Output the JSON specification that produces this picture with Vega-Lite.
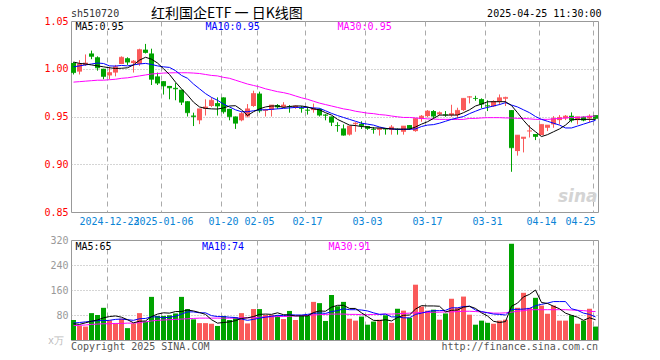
{
"$schema": "https://vega.github.io/schema/vega-lite/v6.json",
"background": "#ffffff",
"padding": {"left": 40, "top": 6, "right": 5, "bottom": 5},
"spacing": 3,
"config": {
  "view": {"stroke": "#999999", "strokeWidth": 1},
  "axis": {"title": null, "ticks": false, "domain": false, "labelFont": "DejaVu Sans Mono", "labelFontSize": 10, "labelOverlap": false},
  "text": {"font": "DejaVu Sans Mono", "fontSize": 10}
},
"datasets": {
"kd": [
{"d":"2024-12-13","o":1.006,"h":1.007,"l":0.994,"c":0.996,"v":64,"m5":1.007,"m10":1.002,"m30":0.986,"vm5":52,"vm10":54,"vm30":46},
{"d":"2024-12-16","o":0.997,"h":1.009,"l":0.994,"c":1.005,"v":45,"m5":1.0056,"m10":1.003,"m30":0.9865,"vm5":50,"vm10":56,"vm30":47},
{"d":"2024-12-17","o":1.004,"h":1.015,"l":1.003,"c":1.006,"v":43,"m5":1.005,"m10":1.004,"m30":0.987,"vm5":55,"vm10":58,"vm30":48},
{"d":"2024-12-18","o":1.016,"h":1.019,"l":1.010,"c":1.013,"v":86,"m5":1.004,"m10":1.005,"m30":0.9875,"vm5":60,"vm10":60,"vm30":50},
{"d":"2024-12-19","o":1.012,"h":1.013,"l":0.998,"c":1.001,"v":80,"m5":1.003,"m10":1.006,"m30":0.988,"vm5":64,"vm10":62,"vm30":51},
{"d":"2024-12-20","o":1.000,"h":1.000,"l":0.989,"c":0.992,"v":103,"m5":1.002,"m10":1.0055,"m30":0.988,"vm5":71,"vm10":62,"vm30":52},
{"d":"2024-12-23","o":0.993,"h":1.002,"l":0.989,"c":0.996,"v":63,"m5":1.001,"m10":1.003,"m30":0.9885,"vm5":75,"vm10":63,"vm30":52},
{"d":"2024-12-24","o":0.996,"h":1.004,"l":0.992,"c":1.002,"v":53,"m5":1.0003,"m10":1.0028,"m30":0.989,"vm5":77,"vm10":66,"vm30":53},
{"d":"2024-12-25","o":1.005,"h":1.013,"l":1.005,"c":1.012,"v":68,"m5":1.0005,"m10":1.0035,"m30":0.990,"vm5":73,"vm10":67,"vm30":53},
{"d":"2024-12-26","o":1.011,"h":1.012,"l":1.004,"c":1.007,"v":38,"m5":1.001,"m10":1.003,"m30":0.9905,"vm5":65,"vm10":65,"vm30":54},
{"d":"2024-12-27","o":1.006,"h":1.009,"l":0.996,"c":1.008,"v":53,"m5":1.004,"m10":1.004,"m30":0.9915,"vm5":55,"vm10":63,"vm30":54},
{"d":"2024-12-30","o":1.005,"h":1.021,"l":1.003,"c":1.020,"v":86,"m5":1.009,"m10":1.005,"m30":0.9925,"vm5":60,"vm10":68,"vm30":56},
{"d":"2024-12-31","o":1.020,"h":1.026,"l":1.016,"c":1.017,"v":59,"m5":1.012,"m10":1.0056,"m30":0.9935,"vm5":61,"vm10":69,"vm30":58},
{"d":"2025-01-02","o":1.016,"h":1.021,"l":0.983,"c":0.989,"v":138,"m5":1.010,"m10":1.0045,"m30":0.9945,"vm5":75,"vm10":74,"vm30":61},
{"d":"2025-01-03","o":0.992,"h":0.996,"l":0.983,"c":0.985,"v":77,"m5":1.006,"m10":1.003,"m30":0.995,"vm5":83,"vm10":74,"vm30":63},
{"d":"2025-01-06","o":0.987,"h":0.987,"l":0.973,"c":0.982,"v":77,"m5":1.000,"m10":1.002,"m30":0.9955,"vm5":87,"vm10":71,"vm30":64},
{"d":"2025-01-07","o":0.982,"h":0.982,"l":0.968,"c":0.980,"v":79,"m5":0.994,"m10":1.0014,"m30":0.9957,"vm5":86,"vm10":73,"vm30":65},
{"d":"2025-01-08","o":0.980,"h":0.985,"l":0.967,"c":0.979,"v":85,"m5":0.986,"m10":0.998,"m30":0.9958,"vm5":91,"vm10":76,"vm30":66},
{"d":"2025-01-09","o":0.978,"h":0.978,"l":0.962,"c":0.965,"v":138,"m5":0.979,"m10":0.993,"m30":0.9958,"vm5":91,"vm10":83,"vm30":67},
{"d":"2025-01-10","o":0.966,"h":0.966,"l":0.950,"c":0.954,"v":99,"m5":0.9724,"m10":0.990,"m30":0.9958,"vm5":96,"vm10":90,"vm30":68},
{"d":"2025-01-13","o":0.951,"h":0.954,"l":0.940,"c":0.950,"v":66,"m5":0.965,"m10":0.984,"m30":0.9955,"vm5":93,"vm10":90,"vm30":69},
{"d":"2025-01-14","o":0.946,"h":0.958,"l":0.942,"c":0.958,"v":54,"m5":0.960,"m10":0.979,"m30":0.995,"vm5":88,"vm10":87,"vm30":70},
{"d":"2025-01-15","o":0.958,"h":0.968,"l":0.951,"c":0.960,"v":54,"m5":0.9585,"m10":0.974,"m30":0.994,"vm5":82,"vm10":87,"vm30":70},
{"d":"2025-01-16","o":0.961,"h":0.970,"l":0.960,"c":0.967,"v":52,"m5":0.958,"m10":0.970,"m30":0.993,"vm5":65,"vm10":78,"vm30":70},
{"d":"2025-01-17","o":0.964,"h":0.970,"l":0.951,"c":0.961,"v":45,"m5":0.9578,"m10":0.967,"m30":0.9925,"vm5":54,"vm10":75,"vm30":70},
{"d":"2025-01-20","o":0.970,"h":0.970,"l":0.953,"c":0.955,"v":77,"m5":0.959,"m10":0.963,"m30":0.991,"vm5":56,"vm10":75,"vm30":70},
{"d":"2025-01-21","o":0.958,"h":0.958,"l":0.946,"c":0.950,"v":64,"m5":0.961,"m10":0.960,"m30":0.990,"vm5":58,"vm10":73,"vm30":70},
{"d":"2025-01-22","o":0.950,"h":0.950,"l":0.937,"c":0.943,"v":73,"m5":0.9613,"m10":0.957,"m30":0.988,"vm5":62,"vm10":72,"vm30":70},
{"d":"2025-01-23","o":0.946,"h":0.955,"l":0.945,"c":0.953,"v":86,"m5":0.957,"m10":0.955,"m30":0.986,"vm5":69,"vm10":67,"vm30":71},
{"d":"2025-01-24","o":0.950,"h":0.963,"l":0.949,"c":0.958,"v":53,"m5":0.951,"m10":0.955,"m30":0.984,"vm5":71,"vm10":63,"vm30":71},
{"d":"2025-01-27","o":0.961,"h":0.977,"l":0.960,"c":0.974,"v":99,"m5":0.955,"m10":0.956,"m30":0.9825,"vm5":75,"vm10":66,"vm30":72},
{"d":"2025-02-05","o":0.974,"h":0.976,"l":0.954,"c":0.956,"v":99,"m5":0.958,"m10":0.957,"m30":0.981,"vm5":82,"vm10":70,"vm30":73},
{"d":"2025-02-06","o":0.956,"h":0.958,"l":0.950,"c":0.957,"v":80,"m5":0.960,"m10":0.957,"m30":0.979,"vm5":83,"vm10":73,"vm30":74},
{"d":"2025-02-07","o":0.957,"h":0.962,"l":0.950,"c":0.962,"v":80,"m5":0.961,"m10":0.9575,"m30":0.9775,"vm5":82,"vm10":76,"vm30":74},
{"d":"2025-02-10","o":0.962,"h":0.963,"l":0.958,"c":0.960,"v":79,"m5":0.961,"m10":0.958,"m30":0.976,"vm5":87,"vm10":79,"vm30":75},
{"d":"2025-02-11","o":0.960,"h":0.965,"l":0.959,"c":0.962,"v":67,"m5":0.9595,"m10":0.9585,"m30":0.975,"vm5":81,"vm10":78,"vm30":75},
{"d":"2025-02-12","o":0.9608,"h":0.962,"l":0.954,"c":0.9605,"v":93,"m5":0.9605,"m10":0.959,"m30":0.9735,"vm5":80,"vm10":81,"vm30":76},
{"d":"2025-02-13","o":0.959,"h":0.9617,"l":0.958,"c":0.961,"v":64,"m5":0.961,"m10":0.9595,"m30":0.9715,"vm5":77,"vm10":80,"vm30":77},
{"d":"2025-02-14","o":0.959,"h":0.961,"l":0.954,"c":0.9585,"v":80,"m5":0.961,"m10":0.9596,"m30":0.9696,"vm5":77,"vm10":80,"vm30":78},
{"d":"2025-02-17","o":0.957,"h":0.960,"l":0.952,"c":0.9565,"v":80,"m5":0.960,"m10":0.9595,"m30":0.968,"vm5":77,"vm10":82,"vm30":79},
{"d":"2025-02-18","o":0.9567,"h":0.9635,"l":0.954,"c":0.9585,"v":122,"m5":0.958,"m10":0.959,"m30":0.966,"vm5":88,"vm10":85,"vm30":80},
{"d":"2025-02-19","o":0.958,"h":0.9585,"l":0.950,"c":0.9515,"v":118,"m5":0.957,"m10":0.9586,"m30":0.964,"vm5":93,"vm10":87,"vm30":81},
{"d":"2025-02-20","o":0.952,"h":0.9525,"l":0.946,"c":0.9512,"v":61,"m5":0.954,"m10":0.956,"m30":0.9625,"vm5":92,"vm10":85,"vm30":82},
{"d":"2025-02-21","o":0.950,"h":0.950,"l":0.940,"c":0.944,"v":144,"m5":0.9515,"m10":0.9533,"m30":0.961,"vm5":105,"vm10":91,"vm30":83},
{"d":"2025-02-24","o":0.941,"h":0.944,"l":0.934,"c":0.9405,"v":108,"m5":0.947,"m10":0.951,"m30":0.9595,"vm5":111,"vm10":94,"vm30":83},
{"d":"2025-02-25","o":0.9375,"h":0.9417,"l":0.930,"c":0.9305,"v":122,"m5":0.944,"m10":0.949,"m30":0.958,"vm5":111,"vm10":100,"vm30":83},
{"d":"2025-02-26","o":0.931,"h":0.940,"l":0.930,"c":0.940,"v":68,"m5":0.941,"m10":0.947,"m30":0.957,"vm5":101,"vm10":97,"vm30":82},
{"d":"2025-02-27","o":0.942,"h":0.944,"l":0.934,"c":0.943,"v":62,"m5":0.9405,"m10":0.945,"m30":0.9555,"vm5":101,"vm10":97,"vm30":82},
{"d":"2025-02-28","o":0.9424,"h":0.945,"l":0.937,"c":0.9403,"v":75,"m5":0.9395,"m10":0.943,"m30":0.9545,"vm5":87,"vm10":96,"vm30":81},
{"d":"2025-03-03","o":0.940,"h":0.940,"l":0.936,"c":0.9375,"v":49,"m5":0.939,"m10":0.942,"m30":0.9535,"vm5":75,"vm10":93,"vm30":81},
{"d":"2025-03-04","o":0.937,"h":0.939,"l":0.932,"c":0.9365,"v":59,"m5":0.938,"m10":0.941,"m30":0.953,"vm5":63,"vm10":87,"vm30":82},
{"d":"2025-03-05","o":0.936,"h":0.938,"l":0.930,"c":0.9375,"v":65,"m5":0.938,"m10":0.939,"m30":0.952,"vm5":62,"vm10":82,"vm30":82},
{"d":"2025-03-06","o":0.9372,"h":0.938,"l":0.931,"c":0.9368,"v":79,"m5":0.9375,"m10":0.9376,"m30":0.9515,"vm5":65,"vm10":83,"vm30":83},
{"d":"2025-03-07","o":0.936,"h":0.941,"l":0.931,"c":0.939,"v":55,"m5":0.937,"m10":0.937,"m30":0.9505,"vm5":61,"vm10":74,"vm30":83},
{"d":"2025-03-10","o":0.937,"h":0.9375,"l":0.931,"c":0.9365,"v":100,"m5":0.9368,"m10":0.9365,"m30":0.9497,"vm5":72,"vm10":74,"vm30":84},
{"d":"2025-03-11","o":0.934,"h":0.940,"l":0.931,"c":0.940,"v":94,"m5":0.9368,"m10":0.9365,"m30":0.949,"vm5":79,"vm10":71,"vm30":85},
{"d":"2025-03-12","o":0.941,"h":0.941,"l":0.936,"c":0.9375,"v":71,"m5":0.9368,"m10":0.9366,"m30":0.949,"vm5":80,"vm10":71,"vm30":86},
{"d":"2025-03-13","o":0.9347,"h":0.948,"l":0.934,"c":0.948,"v":177,"m5":0.939,"m10":0.937,"m30":0.9485,"vm5":99,"vm10":82,"vm30":87},
{"d":"2025-03-14","o":0.9473,"h":0.9515,"l":0.9445,"c":0.9504,"v":107,"m5":0.942,"m10":0.9395,"m30":0.948,"vm5":110,"vm10":86,"vm30":88},
{"d":"2025-03-17","o":0.9504,"h":0.9567,"l":0.949,"c":0.9557,"v":94,"m5":0.9445,"m10":0.941,"m30":0.9475,"vm5":109,"vm10":91,"vm30":88},
{"d":"2025-03-18","o":0.9557,"h":0.9567,"l":0.948,"c":0.9504,"v":97,"m5":0.948,"m10":0.9415,"m30":0.9473,"vm5":109,"vm10":94,"vm30":89},
{"d":"2025-03-19","o":0.9522,"h":0.9553,"l":0.9511,"c":0.954,"v":65,"m5":0.9515,"m10":0.943,"m30":0.947,"vm5":108,"vm10":94,"vm30":89},
{"d":"2025-03-20","o":0.952,"h":0.9557,"l":0.9497,"c":0.9515,"v":85,"m5":0.9515,"m10":0.945,"m30":0.947,"vm5":90,"vm10":95,"vm30":90},
{"d":"2025-03-21","o":0.9515,"h":0.9623,"l":0.9497,"c":0.953,"v":132,"m5":0.9515,"m10":0.947,"m30":0.947,"vm5":95,"vm10":103,"vm30":90},
{"d":"2025-03-24","o":0.9515,"h":0.9592,"l":0.948,"c":0.9564,"v":103,"m5":0.9515,"m10":0.9485,"m30":0.9469,"vm5":96,"vm10":103,"vm30":91},
{"d":"2025-03-25","o":0.9567,"h":0.969,"l":0.9557,"c":0.969,"v":139,"m5":0.954,"m10":0.950,"m30":0.947,"vm5":105,"vm10":107,"vm30":92},
{"d":"2025-03-26","o":0.970,"h":0.9714,"l":0.9637,"c":0.9707,"v":81,"m5":0.957,"m10":0.953,"m30":0.948,"vm5":108,"vm10":108,"vm30":92},
{"d":"2025-03-27","o":0.9692,"h":0.9717,"l":0.9665,"c":0.9689,"v":49,"m5":0.961,"m10":0.9555,"m30":0.948,"vm5":101,"vm10":96,"vm30":91},
{"d":"2025-03-28","o":0.9682,"h":0.969,"l":0.9588,"c":0.963,"v":62,"m5":0.963,"m10":0.958,"m30":0.9485,"vm5":87,"vm10":91,"vm30":90},
{"d":"2025-03-31","o":0.9615,"h":0.967,"l":0.9557,"c":0.961,"v":55,"m5":0.9654,"m10":0.9595,"m30":0.9488,"vm5":77,"vm10":87,"vm30":88},
{"d":"2025-04-01","o":0.9606,"h":0.967,"l":0.960,"c":0.9655,"v":52,"m5":0.9655,"m10":0.961,"m30":0.9488,"vm5":60,"vm10":83,"vm30":86},
{"d":"2025-04-02","o":0.9655,"h":0.9731,"l":0.962,"c":0.9696,"v":62,"m5":0.9655,"m10":0.9625,"m30":0.9488,"vm5":56,"vm10":82,"vm30":86},
{"d":"2025-04-03","o":0.9686,"h":0.9707,"l":0.961,"c":0.970,"v":65,"m5":0.9655,"m10":0.9645,"m30":0.9485,"vm5":59,"vm10":80,"vm30":87},
{"d":"2025-04-07","o":0.9567,"h":0.9567,"l":0.8921,"c":0.9173,"v":308,"m5":0.9615,"m10":0.962,"m30":0.9485,"vm5":108,"vm10":98,"vm30":89},
{"d":"2025-04-08","o":0.9138,"h":0.9305,"l":0.909,"c":0.9305,"v":103,"m5":0.954,"m10":0.960,"m30":0.948,"vm5":118,"vm10":98,"vm30":92},
{"d":"2025-04-09","o":0.9267,"h":0.9284,"l":0.9124,"c":0.9284,"v":151,"m5":0.946,"m10":0.957,"m30":0.948,"vm5":138,"vm10":99,"vm30":94},
{"d":"2025-04-10","o":0.9345,"h":0.941,"l":0.928,"c":0.935,"v":103,"m5":0.939,"m10":0.954,"m30":0.9475,"vm5":146,"vm10":101,"vm30":97},
{"d":"2025-04-11","o":0.9316,"h":0.9316,"l":0.9253,"c":0.9291,"v":135,"m5":0.934,"m10":0.950,"m30":0.947,"vm5":160,"vm10":110,"vm30":97},
{"d":"2025-04-14","o":0.9305,"h":0.9417,"l":0.9305,"c":0.9417,"v":110,"m5":0.929,"m10":0.947,"m30":0.947,"vm5":120,"vm10":114,"vm30":97},
{"d":"2025-04-15","o":0.9382,"h":0.941,"l":0.9347,"c":0.941,"v":84,"m5":0.931,"m10":0.945,"m30":0.947,"vm5":117,"vm10":118,"vm30":97},
{"d":"2025-04-16","o":0.9417,"h":0.9504,"l":0.9382,"c":0.948,"v":110,"m5":0.934,"m10":0.943,"m30":0.9475,"vm5":108,"vm10":123,"vm30":97},
{"d":"2025-04-17","o":0.9462,"h":0.9515,"l":0.9417,"c":0.949,"v":62,"m5":0.937,"m10":0.941,"m30":0.948,"vm5":100,"vm10":123,"vm30":97},
{"d":"2025-04-18","o":0.948,"h":0.9515,"l":0.9462,"c":0.9504,"v":62,"m5":0.941,"m10":0.938,"m30":0.9485,"vm5":86,"vm10":123,"vm30":97},
{"d":"2025-04-21","o":0.9508,"h":0.9543,"l":0.9438,"c":0.9462,"v":79,"m5":0.9465,"m10":0.938,"m30":0.949,"vm5":79,"vm10":100,"vm30":96},
{"d":"2025-04-22","o":0.9462,"h":0.9497,"l":0.9417,"c":0.9497,"v":52,"m5":0.947,"m10":0.940,"m30":0.949,"vm5":73,"vm10":95,"vm30":95},
{"d":"2025-04-23","o":0.9497,"h":0.950,"l":0.945,"c":0.9462,"v":62,"m5":0.947,"m10":0.942,"m30":0.9495,"vm5":63,"vm10":86,"vm30":94},
{"d":"2025-04-24","o":0.948,"h":0.9522,"l":0.9438,"c":0.9504,"v":100,"m5":0.947,"m10":0.944,"m30":0.950,"vm5":71,"vm10":82,"vm30":92},
{"d":"2025-04-25","o":0.9515,"h":0.9515,"l":0.947,"c":0.948,"v":43,"m5":0.947,"m10":0.946,"m30":0.9505,"vm5":65,"vm10":74,"vm30":91}
]
},
"vconcat": [
{
  "width": 527,
  "height": 191,
  "data": {"name": "kd"},
  "encoding": {
    "x": {"field": "d", "type": "ordinal", "scale": {"paddingInner": 0.166667, "paddingOuter": 0},
      "axis": {"values": ["2024-12-23","2025-01-06","2025-01-20","2025-02-05","2025-02-17","2025-03-03","2025-03-17","2025-03-31","2025-04-14","2025-04-25"],
        "bandPosition": 0,
        "labelExpr": "datum.value < '2025-01-07' ? datum.value : slice(datum.value, 5)",
        "labelColor": "#0a84d6", "labelAngle": 0, "labelOverlap": false, "labelBound": false, "labelPadding": 4,
        "labelAlign": {"condition": {"test": "datum.value == '2025-04-25'", "value": "right"}, "value": "center"},
        "grid": true, "gridDash": [5, 4], "gridColor": "#aaaaaa", "minExtent": 18, "maxExtent": 18}}
  },
  "layer": [
    {"mark": {"type": "rule", "strokeWidth": 1},
     "encoding": {
       "y": {"field": "l", "type": "quantitative", "scale": {"domain": [0.85, 1.05], "zero": false, "nice": false},
         "axis": {"values": [0.85, 0.9, 0.95, 1.0, 1.05], "tickCount": 10, "format": ".2f", "labelColor": "#ff0000", "labelPadding": 3, "labelOverlap": false,
           "grid": true, "gridColor": "#aaaaaa", "gridDash": [1, 2],
           "gridOpacity": {"condition": {"test": "datum.value > 0.86 && datum.value < 1.04", "value": 1}, "value": 0},
           "minExtent": 30, "maxExtent": 30}},
       "y2": {"field": "h"},
       "color": {"condition": {"test": "datum.c >= datum.o", "value": "#fa5a5a"}, "value": "#00a300"}}},
    {"mark": {"type": "bar"},
     "encoding": {
       "y": {"field": "o", "type": "quantitative"},
       "y2": {"field": "c"},
       "color": {"condition": {"test": "datum.c >= datum.o", "value": "#fa5a5a"}, "value": "#00a300"}}},
    {"mark": {"type": "tick", "orient": "horizontal", "size": 5, "thickness": 1},
     "encoding": {
       "y": {"field": "c", "type": "quantitative"},
       "color": {"condition": {"test": "datum.c >= datum.o", "value": "#fa5a5a"}, "value": "#00a300"}}},
    {"mark": {"type": "line", "color": "#ff00ff", "strokeWidth": 1},
     "encoding": {"y": {"field": "m30", "type": "quantitative"}}},
    {"mark": {"type": "line", "color": "#0000ff", "strokeWidth": 1},
     "encoding": {"y": {"field": "m10", "type": "quantitative"}}},
    {"mark": {"type": "line", "color": "#000000", "strokeWidth": 1},
     "encoding": {"y": {"field": "m5", "type": "quantitative"}}},
    {"data": {"values": [{"t": "sh510720"}]},
     "mark": {"type": "text", "align": "left", "baseline": "alphabetic", "dx": -2.5, "dy": -4, "color": "#333333", "font": "DejaVu Sans Mono", "fontSize": 10},
     "encoding": {"x": {"datum": "2024-12-13", "type": "ordinal"}, "y": {"datum": 1.05, "type": "quantitative"}, "text": {"field": "t"}}},
    {"data": {"values": [{"t": "红利国企ETF 一 日K线图"}]},
     "mark": {"type": "text", "align": "left", "baseline": "alphabetic", "dx": -0.5, "dy": -3.5, "color": "#000000", "font": "Noto Sans CJK SC", "fontSize": 14},
     "encoding": {"x": {"datum": "2025-01-02", "type": "ordinal"}, "y": {"datum": 1.05, "type": "quantitative"}, "text": {"field": "t"}}},
    {"data": {"values": [{"t": "2025-04-25 11:30:00"}]},
     "mark": {"type": "text", "align": "right", "baseline": "alphabetic", "dx": 6, "dy": -4, "color": "#000000", "font": "DejaVu Sans Mono", "fontSize": 10},
     "encoding": {"x": {"datum": "2025-04-25", "type": "ordinal"}, "y": {"datum": 1.05, "type": "quantitative"}, "text": {"field": "t"}}},
    {"data": {"values": [{"t": "MA5:0.95"}]},
     "mark": {"type": "text", "align": "left", "baseline": "alphabetic", "dx": 2, "dy": 9, "color": "#000000", "font": "DejaVu Sans Mono", "fontSize": 10},
     "encoding": {"x": {"datum": "2024-12-13", "type": "ordinal"}, "y": {"datum": 1.05, "type": "quantitative"}, "text": {"field": "t"}}},
    {"data": {"values": [{"t": "MA10:0.95"}]},
     "mark": {"type": "text", "align": "left", "baseline": "alphabetic", "dx": 0, "dy": 9, "color": "#0000ff", "font": "DejaVu Sans Mono", "fontSize": 10},
     "encoding": {"x": {"datum": "2025-01-15", "type": "ordinal"}, "y": {"datum": 1.05, "type": "quantitative"}, "text": {"field": "t"}}},
    {"data": {"values": [{"t": "MA30:0.95"}]},
     "mark": {"type": "text", "align": "left", "baseline": "alphabetic", "dx": 0, "dy": 9, "color": "#ff00ff", "font": "DejaVu Sans Mono", "fontSize": 10},
     "encoding": {"x": {"datum": "2025-02-24", "type": "ordinal"}, "y": {"datum": 1.05, "type": "quantitative"}, "text": {"field": "t"}}},
    {"data": {"values": [{"t": "sina"}]},
     "mark": {"type": "text", "align": "right", "baseline": "alphabetic", "dx": 2, "dy": 0, "color": "#d4d4d4", "font": "DejaVu Sans", "fontSize": 17, "fontWeight": "bold", "fontStyle": "italic"},
     "encoding": {"x": {"datum": "2025-04-25", "type": "ordinal"}, "y": {"datum": 0.86, "type": "quantitative"}, "text": {"field": "t"}}}
  ]
},
{
  "width": 527,
  "height": 100,
  "data": {"name": "kd"},
  "encoding": {
    "x": {"field": "d", "type": "ordinal", "scale": {"paddingInner": 0.166667, "paddingOuter": 0},
      "axis": {"values": ["2024-12-23","2025-01-06","2025-01-20","2025-02-05","2025-02-17","2025-03-03","2025-03-17","2025-03-31","2025-04-14","2025-04-25"],
        "bandPosition": 0, "labels": false, "grid": true, "gridDash": [5, 4], "gridColor": "#aaaaaa", "minExtent": 0, "maxExtent": 0}}
  },
  "layer": [
    {"mark": {"type": "bar"},
     "encoding": {
       "y": {"field": "v", "type": "quantitative", "scale": {"domain": [0, 320], "nice": false},
         "axis": {"values": [80, 160, 240, 320], "tickCount": 10, "labelOverlap": false, "labelColor": "#999999",
           "labelPadding": 3, "grid": true, "gridColor": "#aaaaaa", "gridDash": [1, 2],
           "gridOpacity": {"condition": {"test": "datum.value < 320", "value": 1}, "value": 0},
           "minExtent": 30, "maxExtent": 30}},
       "color": {"condition": {"test": "datum.c >= datum.o", "value": "#fa5a5a"}, "value": "#00a300"}}},
    {"mark": {"type": "line", "color": "#ff00ff", "strokeWidth": 1},
     "encoding": {"y": {"field": "vm30", "type": "quantitative"}}},
    {"mark": {"type": "line", "color": "#0000ff", "strokeWidth": 1},
     "encoding": {"y": {"field": "vm10", "type": "quantitative"}}},
    {"mark": {"type": "line", "color": "#000000", "strokeWidth": 1},
     "encoding": {"y": {"field": "vm5", "type": "quantitative"}}},
    {"data": {"values": [{"t": "x万"}]},
     "mark": {"type": "text", "align": "right", "baseline": "middle", "dx": -9.5, "dy": 1, "color": "#bbbbbb", "font": "DejaVu Sans Mono", "fontSize": 10},
     "encoding": {"x": {"datum": "2024-12-13", "type": "ordinal"}, "y": {"datum": 0, "type": "quantitative"}, "text": {"field": "t"}}},
    {"data": {"values": [{"t": "MA5:65"}]},
     "mark": {"type": "text", "align": "left", "baseline": "alphabetic", "dx": 2, "dy": 10, "color": "#000000", "font": "DejaVu Sans Mono", "fontSize": 10},
     "encoding": {"x": {"datum": "2024-12-13", "type": "ordinal"}, "y": {"datum": 320, "type": "quantitative"}, "text": {"field": "t"}}},
    {"data": {"values": [{"t": "MA10:74"}]},
     "mark": {"type": "text", "align": "left", "baseline": "alphabetic", "dx": 2.5, "dy": 10, "color": "#0000ff", "font": "DejaVu Sans Mono", "fontSize": 10},
     "encoding": {"x": {"datum": "2025-01-14", "type": "ordinal"}, "y": {"datum": 320, "type": "quantitative"}, "text": {"field": "t"}}},
    {"data": {"values": [{"t": "MA30:91"}]},
     "mark": {"type": "text", "align": "left", "baseline": "alphabetic", "dx": 3, "dy": 10, "color": "#ff00ff", "font": "DejaVu Sans Mono", "fontSize": 10},
     "encoding": {"x": {"datum": "2025-02-20", "type": "ordinal"}, "y": {"datum": 320, "type": "quantitative"}, "text": {"field": "t"}}},
    {"data": {"values": [{"t": "Copyright 2025 SINA.COM"}]},
     "mark": {"type": "text", "align": "left", "baseline": "alphabetic", "dx": -2.5, "dy": 9.5, "color": "#555555", "font": "DejaVu Sans Mono", "fontSize": 10},
     "encoding": {"x": {"datum": "2024-12-13", "type": "ordinal"}, "y": {"datum": 0, "type": "quantitative"}, "text": {"field": "t"}}},
    {"data": {"values": [{"t": "http://finance.sina.com.cn"}]},
     "mark": {"type": "text", "align": "right", "baseline": "alphabetic", "dx": 2.5, "dy": 9.5, "color": "#555555", "font": "DejaVu Sans Mono", "fontSize": 10},
     "encoding": {"x": {"datum": "2025-04-25", "type": "ordinal"}, "y": {"datum": 0, "type": "quantitative"}, "text": {"field": "t"}}}
  ]
}
]
}
